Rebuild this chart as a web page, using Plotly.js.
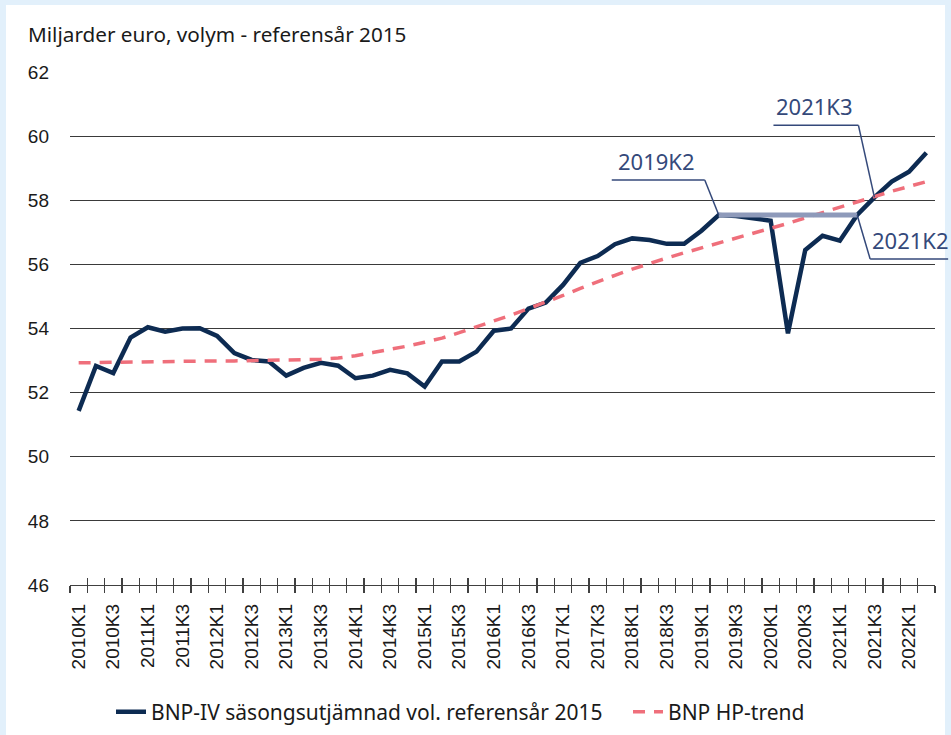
<!DOCTYPE html>
<html>
<head>
<meta charset="utf-8">
<script src="https://cdn.plot.ly/plotly-3.0.1.min.js"></script>
<style>
  html, body { margin: 0; padding: 0; background: #e2f0fb; width: 951px; height: 735px; overflow: hidden; }
  #chart { position: absolute; left: 6px; top: 5px; width: 945px; height: 730px; background: #ffffff; }
</style>
</head>
<body>
<div id="chart"></div>
<script>
// Quarters 2010K1 .. 2022K2
const quarters = [
  "2010K1","2010K2","2010K3","2010K4",
  "2011K1","2011K2","2011K3","2011K4",
  "2012K1","2012K2","2012K3","2012K4",
  "2013K1","2013K2","2013K3","2013K4",
  "2014K1","2014K2","2014K3","2014K4",
  "2015K1","2015K2","2015K3","2015K4",
  "2016K1","2016K2","2016K3","2016K4",
  "2017K1","2017K2","2017K3","2017K4",
  "2018K1","2018K2","2018K3","2018K4",
  "2019K1","2019K2","2019K3","2019K4",
  "2020K1","2020K2","2020K3","2020K4",
  "2021K1","2021K2","2021K3","2021K4",
  "2022K1","2022K2"
];

// BNP-IV säsongsutjämnad vol. referensår 2015 (miljarder euro)
const gdp = [
  51.43, 52.83, 52.61, 53.72,
  54.04, 53.90, 54.00, 54.01,
  53.77, 53.23, 53.02, 52.97,
  52.53, 52.77, 52.93, 52.84,
  52.45, 52.53, 52.71, 52.60,
  52.19, 52.97, 52.97, 53.28,
  53.93, 54.00, 54.62, 54.81,
  55.36, 56.05, 56.26, 56.63,
  56.81, 56.76, 56.64, 56.64,
  57.05, 57.54, 57.51, 57.44,
  57.36, 53.85, 56.45, 56.89,
  56.74, 57.54, 58.09, 58.58,
  58.89, 59.48
];

// BNP HP-trend
const trend = [
  52.93, 52.94, 52.95, 52.96,
  52.97, 52.97, 52.98, 52.98,
  52.99, 52.99, 53.00, 53.01,
  53.02, 53.03, 53.04, 53.08,
  53.15, 53.25, 53.34, 53.45,
  53.57, 53.70, 53.87, 54.05,
  54.23, 54.42, 54.62, 54.82,
  55.03, 55.25, 55.46, 55.66,
  55.85, 56.03, 56.20, 56.36,
  56.51, 56.66, 56.82, 56.97,
  57.12, 57.28, 57.45, 57.62,
  57.79, 57.96, 58.12, 58.28,
  58.43, 58.58
];

// x tick labels (every second quarter)
const tickLabels = quarters.filter((q, i) => i % 2 === 0);

// y axis ticks
const yTicks = [46, 48, 50, 52, 54, 56, 58, 60, 62];

// Highlighted comparison period and callouts
const levelFrom = "2019K2";
const levelTo = "2021K2";
const crossQuarter = "2021K3";

const seriesNames = ["BNP-IV säsongsutjämnad vol. referensår 2015", "BNP HP-trend"];

const navy = "#0d2b52";
const pink = "#ef6f7b";
const bar = "#8e9aba";
const callColor = "#34497a";
const fontMain = "Noto Sans, sans-serif";
const fontTicks = "Liberation Sans, Arial, sans-serif";

const n = quarters.length;
const boundaries = [];
for (let i = 0; i <= n; i++) boundaries.push(i - 0.5);

const iFrom = quarters.indexOf(levelFrom);
const iTo = quarters.indexOf(levelTo);
const iCross = quarters.indexOf(crossQuarter);

const traces = [
  {
    x: quarters, y: gdp, type: "scatter", mode: "lines", name: seriesNames[0],
    line: { color: navy, width: 4.5 }, hoverinfo: "x+y", legend: "legend"
  },
  {
    x: quarters, y: trend, type: "scatter", mode: "lines", name: seriesNames[1],
    line: { color: pink, width: 3.5, dash: "12px,9px" }, hoverinfo: "x+y", legend: "legend2"
  },
  {
    x: [levelFrom, levelTo], y: [gdp[iFrom], gdp[iFrom]], type: "scatter", mode: "lines",
    line: { color: bar, width: 5 }, showlegend: false, hoverinfo: "skip"
  },
  { x: [0], y: [null], xaxis: "x2", showlegend: false, hoverinfo: "skip", mode: "lines" },
  { x: [0], y: [null], xaxis: "x3", showlegend: false, hoverinfo: "skip", mode: "lines" }
];

// plot area size in px (for callout offsets)
const W = 945, H = 730;
const margin = { l: 64, r: 16, t: 67, b: 150, autoexpand: false };
const pw = W - margin.l - margin.r;
const ph = H - margin.t - margin.b;
const yMin = 46, yMax = 62;
function px(i) { return (i + 0.5) / n; }
function py(v) { return (v - yMin) / (yMax - yMin); }
function ox(p, dx) { return p + dx / pw; }
function oy(p, dy) { return p - dy / ph; }

// light blue frame strip on the right edge
const shapes = [{
  type: "rect", xref: "paper", yref: "paper", layer: "below",
  x0: ox(1, margin.r - 6), x1: ox(1, margin.r + 2),
  y0: oy(0, margin.b + 5), y1: oy(1, -margin.t - 5),
  fillcolor: "#e2f0fb", line: { width: 0 }
}];
const annotations = [];
function callout(i, v, elbow, endDx, text, textDx, textDy) {
  const x0 = px(i), y0 = py(v);
  const xe = ox(x0, elbow[0]), ye = oy(y0, elbow[1]);
  const xu = ox(x0, endDx);
  shapes.push({ type: "line", xref: "paper", yref: "paper", x0: x0, y0: y0, x1: xe, y1: ye,
    line: { color: callColor, width: 1.5 } });
  shapes.push({ type: "line", xref: "paper", yref: "paper", x0: xe, y0: ye, x1: xu, y1: ye,
    line: { color: callColor, width: 1.5 } });
  annotations.push({ xref: "paper", yref: "paper", x: ox(x0, textDx), y: oy(y0, textDy),
    xanchor: "center", yanchor: "bottom", showarrow: false, text: text,
    font: { family: fontMain, size: 22, color: callColor } });
}
callout(iFrom, gdp[iFrom], [-14, -35], -107, levelFrom, -62, -37);
callout(iCross, gdp[iCross], [-16, -72], -101, crossQuarter, -60, -74);
callout(iTo, gdp[iTo], [13, 44], 91, levelTo, 53, 42);

const legendY = oy(0, 127);
const layout = {
  width: W, height: H,
  margin: margin,
  paper_bgcolor: "#ffffff",
  plot_bgcolor: "#ffffff",
  font: { family: fontMain, size: 19, color: "#1a1a1a" },
  title: {
    text: "Miljarder euro, volym - referensår 2015",
    x: 22 / W, xref: "container", xanchor: "left",
    y: 1 - 30 / H, yref: "container", yanchor: "middle",
    font: { family: fontMain, size: 20.7, color: "#1a1a1a" }
  },
  xaxis: {
    type: "category", range: [-0.5, n - 0.5],
    tickmode: "array", tickvals: tickLabels, ticktext: tickLabels,
    tickangle: -90, ticks: "", showgrid: false, zeroline: false,
    showline: true, linecolor: "#404040", linewidth: 1.3,
    tickfont: { family: fontTicks, size: 19, color: "#1a1a1a" },
    ticklabelstandoff: 10
  },
  xaxis2: {
    overlaying: "x", anchor: "y", type: "linear", range: [-0.5, n - 0.5],
    tickmode: "array", tickvals: boundaries, ticks: "outside", ticklen: 7,
    tickcolor: "#404040", tickwidth: 1.3, showticklabels: false, showgrid: false, zeroline: false,
    showline: false
  },
  xaxis3: {
    overlaying: "x", anchor: "y", type: "linear", range: [-0.5, n - 0.5],
    tickmode: "array", tickvals: boundaries, ticks: "inside", ticklen: 7,
    tickcolor: "#404040", tickwidth: 1.3, showticklabels: false, showgrid: false, zeroline: false,
    showline: false
  },
  yaxis: {
    range: [yMin, yMax], tickmode: "array", tickvals: yTicks,
    ticks: "", showline: false, zeroline: false,
    showgrid: true, gridcolor: "#3a3a3a", gridwidth: 1,
    tickfont: { family: fontTicks, size: 19, color: "#1a1a1a" },
    ticklabelstandoff: 20
  },
  legend: {
    orientation: "h", x: (113 - 6 - margin.l - 2) / pw, xanchor: "left", y: legendY, yanchor: "middle",
    font: { family: fontMain, size: 21, color: "#1a1a1a" },
    bgcolor: "rgba(0,0,0,0)"
  },
  legend2: {
    orientation: "h", x: (638 - 6 - margin.l - 10) / pw, xanchor: "left", y: legendY, yanchor: "middle",
    font: { family: fontMain, size: 21, color: "#1a1a1a" },
    bgcolor: "rgba(0,0,0,0)"
  },
  shapes: shapes,
  annotations: annotations,
  showlegend: true
};

Plotly.newPlot("chart", traces, layout, { displayModeBar: false, staticPlot: true });
</script>
</body>
</html>
